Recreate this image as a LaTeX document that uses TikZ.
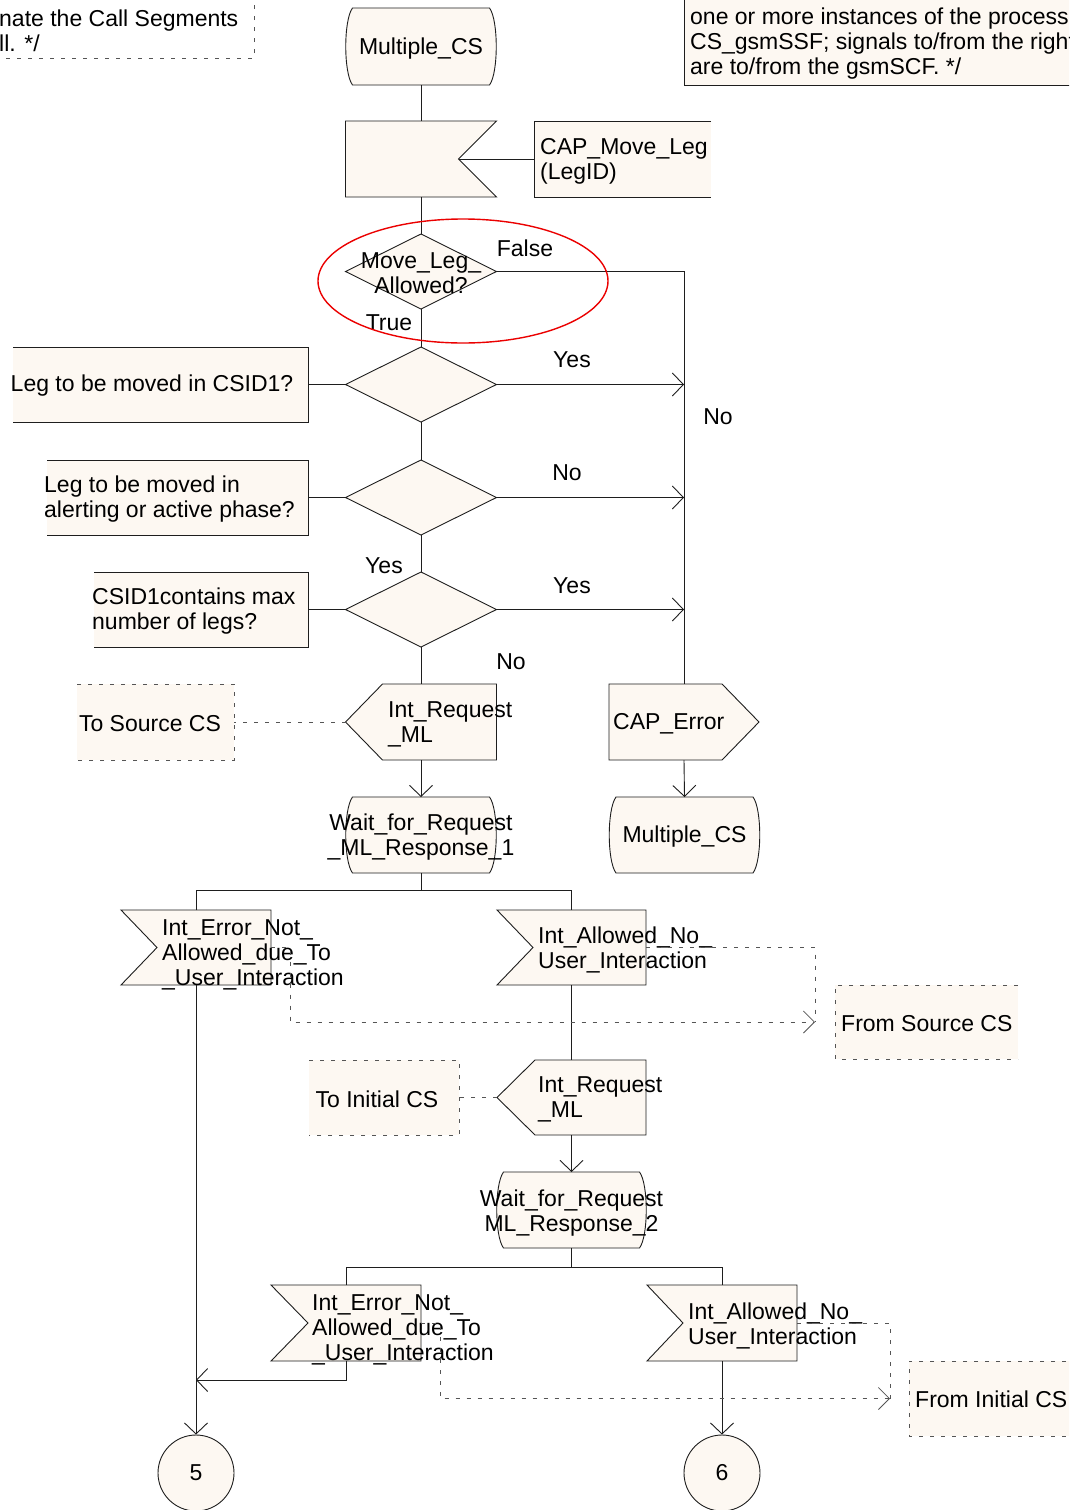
\documentclass[tikz,border=0pt]{standalone}
\usepackage{fontspec}
\setmainfont{Liberation Sans}
\usetikzlibrary{calc,arrows.meta}

\definecolor{sdlfill}{HTML}{FDF8F2}
\definecolor{sdlline}{HTML}{1E1E1E}
\definecolor{sigline}{HTML}{555555}
\newcommand\sdlfont{\fontsize{23pt}{25pt}\selectfont}

% SDL symbols drawn around invisible frame nodes
\newcommand\sdlState[1]{%
  \filldraw[sym] ($(#1.north west)+(7,0)$) -- ($(#1.north east)+(-7,0)$)
    .. controls ($(#1.north east)+(2,12)$) and ($(#1.south east)+(2,-12)$) .. ($(#1.south east)+(-7,0)$)
    -- ($(#1.south west)+(7,0)$)
    .. controls ($(#1.south west)+(-2,-12)$) and ($(#1.north west)+(-2,12)$) .. ($(#1.north west)+(7,0)$) -- cycle;}
\newcommand\sdlDecision[1]{%
  \filldraw[sym] (#1.north) -- (#1.east) -- (#1.south) -- (#1.west) -- cycle;}
\newcommand\sdlInputR[2]{%
  \filldraw[sym] (#1.north west) -- (#1.north east) -- ($(#1.east)+(-#2,0)$) -- (#1.south east) -- (#1.south west) -- cycle;}
\newcommand\sdlInputL[2]{%
  \filldraw[sym] (#1.north west) -- (#1.north east) -- (#1.south east) -- (#1.south west) -- ($(#1.west)+(#2,0)$) -- cycle;}
\newcommand\sdlOutputL[2]{%
  \filldraw[sym] ($(#1.north west)+(#2,0)$) -- (#1.north east) -- (#1.south east) -- ($(#1.south west)+(#2,0)$) -- (#1.west) -- cycle;}
\newcommand\sdlOutputR[2]{%
  \filldraw[sym] (#1.north west) -- ($(#1.north east)+(-#2,0)$) -- (#1.east) -- ($(#1.south east)+(-#2,0)$) -- (#1.south west) -- cycle;}
% comment brackets, open on the left or on the right
\newcommand\sdlNoteR[2]{%
  \fill[sdlfill] (#1.north west) rectangle (#1.south east);
  \draw[#2] (#1.north west) -- (#1.north east) -- (#1.south east) -- (#1.south west);}
\newcommand\sdlNoteL[2]{%
  \fill[sdlfill] (#1.north west) rectangle (#1.south east);
  \draw[#2] (#1.north east) -- (#1.north west) -- (#1.south west) -- (#1.south east);}

\tikzset{
  fr/.style 2 args={inner sep=0pt, outer sep=0pt, draw=none, minimum width=#1pt, minimum height=#2pt},
  sym/.style={fill=sdlfill, draw=sdlline, line width=0.9pt},
  flow/.style={draw=sdlline, line width=0.9pt},
  arr/.style={flow, -{Straight Barb[length=11pt,width=23pt]}},
  sig/.style={draw=sigline, line width=0.8pt, dash pattern=on 4pt off 7pt},
  sigarr/.style={sig, -{Straight Barb[length=11pt,width=22pt]}},
  tl/.style={inner sep=0pt, font=\sdlfont, align=left, anchor=west, yshift=-2pt},
  tc/.style={inner sep=0pt, font=\sdlfont, align=center, yshift=-2pt},
  lab/.style={inner sep=0pt, font=\sdlfont, yshift=-1pt},
}

\begin{document}
\begin{tikzpicture}[x=1pt, y=-1pt]
\useasboundingbox (0,0) rectangle (1069,1510);
\clip (0,0) rectangle (1069,1510);
\fill[white] (0,0) rectangle (1069,1510);

% ---- frames of the symbols ----
\node[fr={151}{77}] (st0) at (421,46.5) {};
\node[fr={151}{76}] (in0) at (421,159) {};
\node[fr={177}{76}] (cm0) at (622.5,159) {};
\node[fr={151}{75}] (d0) at (421,271.5) {};
\node[fr={151}{75}] (d1) at (421,384.5) {};
\node[fr={151}{75}] (d2) at (421,497.5) {};
\node[fr={151}{75}] (d3) at (421,609.5) {};
\node[fr={295}{75}] (cm1) at (160.5,384.5) {};
\node[fr={261}{75}] (cm2) at (177.5,497.5) {};
\node[fr={214}{75}] (cm3) at (201,609.5) {};
\node[fr={151}{76}] (out0) at (421,722) {};
\node[fr={157}{76}] (src0) at (155.5,722) {};
\node[fr={150}{76}] (err) at (684,722) {};
\node[fr={151}{76}] (st1) at (421,835) {};
\node[fr={151}{76}] (st2) at (684.5,835) {};
\node[fr={150}{75}] (in1) at (196,947.5) {};
\node[fr={149}{75}] (in2) at (571.5,947.5) {};
\node[fr={183}{74}] (fsrc) at (926.5,1022) {};
\node[fr={149}{75}] (out1) at (571.5,1097.5) {};
\node[fr={150}{75}] (tinit) at (384,1097.5) {};
\node[fr={150}{76}] (st3) at (571.5,1210) {};
\node[fr={150}{76}] (in3) at (346,1323) {};
\node[fr={150}{76}] (in4) at (722,1323) {};
\node[fr={190}{75}] (finit) at (1004,1398.5) {};

% ---- comment boxes at the top ----
\draw[sig] (-5,58) -- (254,58) -- (254,-5);
\filldraw[fill=sdlfill, draw=sdlline, line width=1pt] (684,-5) rectangle (1080,85);
\node[tl] (ctl) at (-1,29) {nate the Call Segments\\ll. */};
\node[tl] (ctr) at (690,41.5) {one or more instances of the process\\CS\_gsmSSF; signals to/from the right\\are to/from the gsmSCF. */};

% ---- symbols ----
\sdlState{st0}
\sdlInputR{in0}{38}
\sdlNoteL{cm0}{flow}
\sdlDecision{d0}
\sdlDecision{d1}
\sdlDecision{d2}
\sdlDecision{d3}
\sdlNoteR{cm1}{flow}
\sdlNoteR{cm2}{flow}
\sdlNoteR{cm3}{flow}
\sdlOutputL{out0}{37}
\sdlNoteR{src0}{sig}
\sdlOutputR{err}{37}
\sdlState{st1}
\sdlState{st2}
\sdlInputL{in1}{36}
\sdlInputL{in2}{36}
\sdlNoteL{fsrc}{sig}
\sdlOutputL{out1}{38}
\sdlNoteR{tinit}{sig}
\sdlState{st3}
\sdlInputL{in3}{37}
\sdlInputL{in4}{36}
\sdlNoteL{finit}{sig}
\node[circle, sym, minimum size=76pt, inner sep=0pt, font=\sdlfont] (c5) at (196,1473) {5};
\node[circle, sym, minimum size=76pt, inner sep=0pt, font=\sdlfont] (c6) at (722,1473) {6};

% ---- texts of the symbols ----
\node[tc] (st0t) at (421,46.5) {Multiple\_CS};
\node[tl] (cm0t) at (540,159) {CAP\_Move\_Leg\\(LegID)};
\node[tc] (d0t) at (421,271.5) {Move\_Leg\_\\Allowed?};
\node[tc] (cm1t) at (152,384) {Leg to be moved in CSID1?};
\node[tl] (cm2t) at (44,497) {Leg to be moved in\\alerting or active phase?};
\node[tl] (cm3t) at (92,609.5) {CSID1contains max\\number of legs?};
\node[tc] (src0t) at (150,722) {To Source CS};
\node[tl] (out0t) at (388,722.5) {Int\_Request\\\_ML};
\node[tl] (errt) at (613,722) {CAP\_Error};
\node[tc] (st1t) at (421,835.5) {Wait\_for\_Request\\\_ML\_Response\_1};
\node[tc] (st2t) at (684.5,835) {Multiple\_CS};
\node[tl] (in1t) at (162,953) {Int\_Error\_Not\_\\Allowed\_due\_To\\\_User\_Interaction};
\node[tl] (in2t) at (538,948) {Int\_Allowed\_No\_\\User\_Interaction};
\node[tl] (fsrct) at (841,1022) {From Source CS};
\node[tc] (tinitt) at (377,1097) {To Initial CS};
\node[tl] (out1t) at (538,1097.5) {Int\_Request\\\_ML};
\node[tc] (st3t) at (571.5,1211) {Wait\_for\_Request\\ML\_Response\_2};
\node[tl] (in3t) at (312,1328) {Int\_Error\_Not\_\\Allowed\_due\_To\\\_User\_Interaction};
\node[tl] (in4t) at (688,1323.5) {Int\_Allowed\_No\_\\User\_Interaction};
\node[tl] (finitt) at (915,1397) {From Initial CS};

% ---- branch labels ----
\node[lab] (lfalse) at (525,247) {False};
\node[lab] (ltrue) at (389,322) {True};
\node[lab] (lyes1) at (572,359) {Yes};
\node[lab] (lno0) at (718,416) {No};
\node[lab] (lno2) at (567,472) {No};
\node[lab] (lyes2) at (384,565) {Yes};
\node[lab] (lyes3) at (572,585) {Yes};
\node[lab] (lno3) at (511,661) {No};

% ---- flow lines ----
\draw[flow] (st0.south) -- (in0.north);
\coordinate (in0n) at ($(in0.east)+(-38,0)$);
\draw[flow] (in0n) -- (cm0.west);
\draw[flow] (in0.south) -- (d0.north);
\draw[flow] (d0.east) -| (err.north);
\draw[flow] (d0.south) -- (d1.north);
\draw[flow] (d1.south) -- (d2.north);
\draw[flow] (d2.south) -- (d3.north);
\draw[flow] (d3.south) -- (out0.north);
\draw[arr] (d1.east) -- (d1.east -| err.north);
\draw[arr] (d2.east) -- (d2.east -| err.north);
\draw[arr] (d3.east) -- (d3.east -| err.north);
\draw[flow] (cm1.east) -- (d1.west);
\draw[flow] (cm2.east) -- (d2.west);
\draw[flow] (cm3.east) -- (d3.west);
\draw[sig] (out0.west) -- (src0.east);
\draw[arr] (out0.south) -- (st1.north);
\draw[arr] (err.south) -- (st2.north);

\coordinate (j1) at ($(st1.south)+(0,17)$);
\draw[flow] (st1.south) -- (j1);
\draw[flow] (in1.north) |- (j1) -| (in2.north);
\draw[arr] (in1.south) -- (c5.north);
\draw[flow] (in2.south) -- (out1.north);
\coordinate (fsin) at ($(fsrc.west)+(-20,0)$);
\draw[sigarr] (in1.east) -- ++(19,0) |- (fsin);
\draw[sig] (in2.east) -| (fsin);
\draw[sig] (out1.west) -- (tinit.east);
\draw[arr] (out1.south) -- (st3.north);

\coordinate (j2) at ($(st3.south)+(0,19)$);
\draw[flow] (st3.south) -- (j2);
\draw[flow] (in3.north) |- (j2) -| (in4.north);
\path (in3.south) ++(0,19) coordinate (k5);
\draw[arr] (in3.south) -- (k5) -- (k5 -| c5.north);
\draw[arr] (in4.south) -- (c6.north);
\coordinate (fiin) at ($(finit.west)+(-19,0)$);
\draw[sigarr] (in3.east) -- ++(19,0) |- (fiin);
\draw[sig] (in4.east) -| (fiin);

% ---- highlight ring ----
\draw[red!92!black, line width=1.4pt] (463,281) ellipse [x radius=145pt, y radius=62pt];
\end{tikzpicture}
\end{document}
